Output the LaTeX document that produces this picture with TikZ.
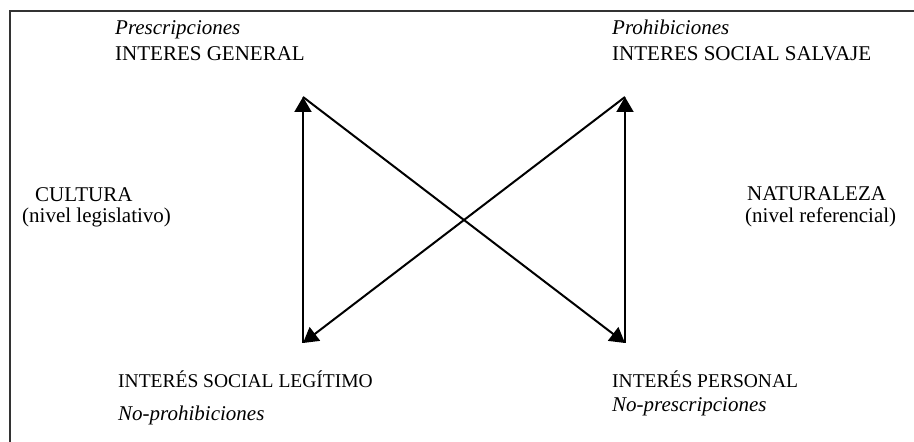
\documentclass[tikz,border=0pt]{standalone}
\usepackage{fontspec}
\setmainfont{Liberation Serif}
\usetikzlibrary{arrows.meta}
\begin{document}
\begin{tikzpicture}[x=1pt,y=1pt,
  lbl/.style={inner sep=0pt, anchor=base west, font=\fontsize{21}{24}\selectfont},
  lblb/.style={inner sep=0pt, anchor=base west, font=\fontsize{19.5}{23}\selectfont},
  conn/.style={line width=2pt, -{Triangle[length=15pt,width=17pt]}},
  frameline/.style={line width=1.5pt, draw=black!80}]
\useasboundingbox (0,0) rectangle (914,442);
\draw[frameline] (10,0) -- (10,431) -- (914,431);
% labels
\node[lbl] (pres) at (115,407) {\itshape Prescripciones};
\node[lbl] (ig) at (115,381) {INTERES GENERAL};
\node[lbl] (proh) at (612,407) {\itshape Prohibiciones};
\node[lbl] (iss) at (612,381) {INTERES SOCIAL SALVAJE};
\node[lbl] (cult) at (35,240) {CULTURA};
\node[lbl] (nleg) at (22,219) {(nivel legislativo)};
\node[lbl] (nat) at (747,241) {NATURALEZA};
\node[lbl] (nref) at (745,219) {(nivel referencial)};
\node[lblb] (isl) at (118,54) {INTERÉS SOCIAL LEGÍTIMO};
\node[lbl] (noproh) at (118,21) {\itshape No-prohibiciones};
\node[lblb] (ip) at (612,54) {INTERÉS PERSONAL};
\node[lbl] (nopres) at (612,30) {\itshape No-prescripciones};
% corner points
\coordinate (tl) at (303,345);
\coordinate (tr) at (625,345);
\coordinate (bl) at (303,99);
\coordinate (br) at (625,99);
\draw[conn] (bl) -- (tl);
\draw[conn] (tl) -- (br);
\draw[conn] (br) -- (tr);
\draw[conn] (tr) -- (bl);
\end{tikzpicture}
\end{document}
